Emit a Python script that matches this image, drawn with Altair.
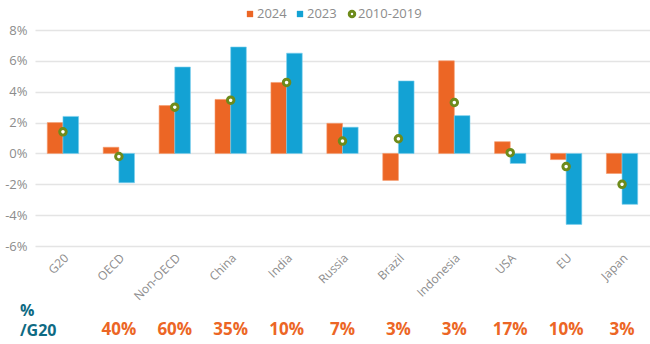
import altair as alt
import pandas as pd

categories = ["G20", "OECD", "Non-OECD", "China", "India", "Russia", "Brazil",
              "Indonesia", "USA", "EU", "Japan"]
v2024 = [2.0, 0.4, 3.1, 3.5, 4.6, 1.95, -1.75, 6.0, 0.76, -0.4, -1.3]
v2023 = [2.4, -1.9, 5.6, 6.9, 6.5, 1.7, 4.7, 2.45, -0.65, -4.6, -3.3]
v1019 = [1.4, -0.2, 3.0, 3.45, 4.6, 0.8, 0.95, 3.3, 0.05, -0.85, -2.0]
shares = ["", "40%", "60%", "35%", "10%", "7%", "3%", "3%", "17%", "10%", "3%"]
series_names = ["2024", "2023"]
series_colors = ["#EC6625", "#13A2D4"]
dot_name = "2010-2019"
dot_color = "#6E8B1B"
y_ticks = [-6, -4, -2, 0, 2, 4, 6, 8]

FONT = "Open Sans"
GRAY = "#8c8c8c"

bars_df = pd.DataFrame(
    [{"cat": c, "series": "2024", "value": v} for c, v in zip(categories, v2024)]
    + [{"cat": c, "series": "2023", "value": v} for c, v in zip(categories, v2023)]
)
dots_df = pd.DataFrame({"cat": categories, "value": v1019})
share_df = pd.DataFrame({"cat": categories, "share": shares})

xscale = alt.Scale(domain=categories, paddingInner=0.44, paddingOuter=0.22)
x_axis = alt.Axis(title=None, labelAngle=-45, labelColor=GRAY, labelFontSize=12,
                  labelFont=FONT, domain=False, ticks=False, labelPadding=6, grid=False)
x_enc = alt.X("cat:N", sort=categories, scale=xscale, axis=x_axis)
yscale = alt.Scale(domain=[-6, 8], nice=False)
y_axis = alt.Axis(title=None, values=y_ticks, labelExpr="datum.value + '%'",
                  labelColor=GRAY, labelFontSize=13, labelFont=FONT,
                  domain=False, ticks=False, labelPadding=8, labelOverlap=False,
                  gridColor="#e4e4e4", gridWidth=1.5)
y_enc = alt.Y("value:Q", scale=yscale, axis=y_axis)

bars = alt.Chart(bars_df).mark_bar(strokeWidth=1, strokeOpacity=0.6).encode(
    x=x_enc,
    xOffset=alt.XOffset("series:N", sort=series_names,
                        scale=alt.Scale(domain=series_names, paddingInner=0, paddingOuter=0)),
    y=y_enc,
    color=alt.Color("series:N", scale=alt.Scale(domain=series_names, range=series_colors), legend=None),
    stroke=alt.Stroke("series:N", scale=alt.Scale(domain=series_names, range=["#F59A6A", "#7FD0EE"]), legend=None),
)

dots = alt.Chart(dots_df).mark_point(filled=False, fill="white", fillOpacity=1,
                                     stroke=dot_color, strokeWidth=3, size=42, opacity=1).encode(
    x=x_enc,
    y=y_enc,
)

share_text = alt.Chart(share_df).mark_text(font=FONT, fontWeight="bold", fontSize=17,
                                           color="#EC6625", baseline="middle").encode(
    x=x_enc,
    y=alt.value(300),
    text="share:N",
)

lbl_pct = alt.Chart(pd.DataFrame({"t": ["%"]})).mark_text(
    font=FONT, fontWeight="bold", fontSize=16, color="#0E6A83", align="left", baseline="middle"
).encode(x=alt.value(-15), y=alt.value(281), text="t:N")
lbl_g20 = alt.Chart(pd.DataFrame({"t": ["/G20"]})).mark_text(
    font=FONT, fontWeight="bold", fontSize=16, color="#0E6A83", align="left", baseline="middle"
).encode(x=alt.value(-15), y=alt.value(301), text="t:N")

# manual legend
leg_sq1 = alt.Chart(pd.DataFrame({"t": [series_names[0]]})).mark_square(
    size=40, color=series_colors[0], opacity=1).encode(x=alt.value(215), y=alt.value(-16))
leg_sq2 = alt.Chart(pd.DataFrame({"t": [series_names[1]]})).mark_square(
    size=40, color=series_colors[1], opacity=1).encode(x=alt.value(265), y=alt.value(-16))
leg_dot = alt.Chart(pd.DataFrame({"t": [dot_name]})).mark_point(
    filled=False, fill="white", fillOpacity=1, stroke=dot_color, strokeWidth=3, size=30, opacity=1
).encode(x=alt.value(317), y=alt.value(-16))
leg_t1 = alt.Chart(pd.DataFrame({"t": [series_names[0]]})).mark_text(
    font=FONT, fontSize=13, color=GRAY, align="left", baseline="middle").encode(
    x=alt.value(222), y=alt.value(-16), text="t:N")
leg_t2 = alt.Chart(pd.DataFrame({"t": [series_names[1]]})).mark_text(
    font=FONT, fontSize=13, color=GRAY, align="left", baseline="middle").encode(
    x=alt.value(272), y=alt.value(-16), text="t:N")
leg_t3 = alt.Chart(pd.DataFrame({"t": [dot_name]})).mark_text(
    font=FONT, fontSize=13, color=GRAY, align="left", baseline="middle").encode(
    x=alt.value(323), y=alt.value(-16), text="t:N")

chart = alt.layer(
    bars, dots, share_text, lbl_pct, lbl_g20,
    leg_sq1, leg_sq2, leg_dot, leg_t1, leg_t2, leg_t3
).properties(
    width=615, height=216,
    autosize=alt.AutoSizeParams(type="none"),
    padding={"left": 35, "top": 30, "right": 0, "bottom": 98},
    background="white",
).configure_view(stroke=None)

chart.save("out.html", embed_options={"renderer": "svg", "actions": False})
